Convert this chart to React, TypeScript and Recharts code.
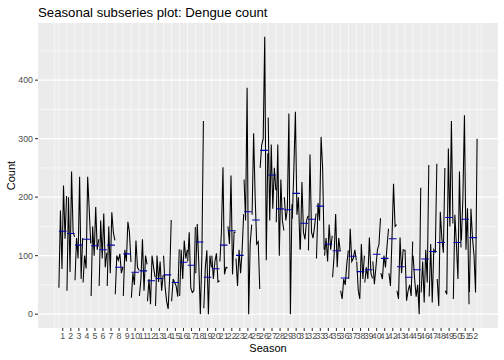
import { ComposedChart, Line, XAxis, YAxis, CartesianGrid } from "recharts";

// weekly dengue counts, one array per year, weeks 1..52
const year1 = [45, 40, 58, 54, 31, 48, 48, 34, 31, 28, 31, 22, 14, 100, 22, 31, 90, 70, 10, 100, 90, 150, 95, 230, 170, 250, 336, 157, 200, 163, 111, 109, 95, 100, 63, 40, 60, 90, 54, 90, 70, 70, 40, 110, 100, 37, 30, 60, 40, 26, 126, 38];
const year2 = [177, 200, 130, 100, 150, 160, 150, 100, 110, 70, 60, 60, 100, 47, 60, 110, 140, 154, 80, 60, 140, 120, 48, 160, 309, 289, 160, 290, 160, 250, 226, 273, 190, 130, 100, 26, 146, 40, 80, 51, 60, 48, 26, 23, 60, 90, 120, 14, 34, 170, 200, 180];
const year3 = [77, 72, 95, 78, 100, 95, 70, 92, 90, 50, 128, 17, 55, 22, 54, 60, 45, 85, 109, 90, 251, 237, 110, 387, 200, 300, 290, 100, 180, 346, 140, 140, 160, 90, 171, 60, 90, 26, 60, 80, 100, 130, 131, 40, 30, 20, 20, 175, 283, 120, 340, 130];
const year4 = [220, 244, 235, 235, 183, 172, 174, 103, 158, 126, 40, 100, 90, 9, 48, 126, 37, 0, 0, 104, 68, 68, 70, 0, 120, 474, 180, 230, 343, 170, 128, 130, 303, 153, 80, 50, 95, 120, 131, 110, 80, 223, 70, 50, 50, 110, 110, 130, 150, 60, 110, 100];
const year5 = [129, 140, 60, 180, 110, 80, 140, 70, 140, 80, 100, 80, 40, 64, 30, 95, 40, 100, 100, 55, 80, 140, 109, 120, 124, 92, 250, 160, 0, 200, 160, 150, 250, 110, 130, 85, 110, 60, 70, 119, 116, 150, 110, 31, 0, 54, 105, 105, 330, 244, 181, 37];
const year6 = [202, 132, 130, 121, 128, 105, 126, 81, 89, 75, 85, 63, 67, 161, 111, 110, 149, 330, 80, 57, 79, 140, 171, 153, 43, 275, 212, 143, 188, 110, 168, 172, 110, 134, 107, 109, 92, 100, 61, 164, 146, 153, 109, 124, 216, 255, 257, 250, 155, 114, 17, 300];

const years = [year1, year2, year3, year4, year5, year6];
const seasons = Array.from({ length: 52 }, (_, i) => i + 1);

// same layout as forecast::ggsubseriesplot
const seasonWidth = (years.length - 1) * 1.05;
const rows: any[] = [];
seasons.forEach((s, i) => {
  const vals = years.map((y) => y[i]);
  const avg = vals.reduce((a, b) => a + b, 0) / vals.length;
  vals.forEach((v, k) => rows.push({ t: s + 0.025 + k / seasonWidth, count: v, avg }));
  rows.push({ t: s + 0.99, count: null, avg: null });
});

const allT = rows.filter((r) => r.count !== null).map((r) => r.t);
const allY = rows.filter((r) => r.count !== null).map((r) => r.count);
const tMin = Math.min(...allT);
const tMax = Math.max(...allT);
const yMin = Math.min(...allY);
const yMax = Math.max(...allY);
const xDomain = [tMin - 0.05 * (tMax - tMin), tMax + 0.05 * (tMax - tMin)];
const yDomain = [yMin - 0.05 * (yMax - yMin), yMax + 0.05 * (yMax - yMin)];

const xBreaks = seasons.map((s) => s + 0.5);
const xMinor = [0.5, ...seasons, 53, 53.5];
const yBreaks = [0, 100, 200, 300, 400];
const yMinor = [50, 150, 250, 350, 450];

const FONT = '"Liberation Sans", Arial, Helvetica, sans-serif';
const tickStyle = { fontSize: 8.8, fill: "#4D4D4D", fontFamily: FONT };

export default function App() {
  return (
    <div style={{ position: "absolute", left: 0, top: 0, width: 504, height: 360, background: "#fff" }}>
      <ComposedChart width={504} height={360} data={rows} margin={{ top: 23, right: 6, bottom: 0, left: 0 }}>
        <CartesianGrid fill="#EBEBEB" stroke="#FFFFFF" strokeWidth={0.55} horizontal={false} verticalValues={xMinor} syncWithTicks />
        <CartesianGrid stroke="#FFFFFF" strokeWidth={0.55} vertical={false} horizontalValues={yMinor} syncWithTicks />
        <CartesianGrid stroke="#FFFFFF" strokeWidth={1.1} vertical={false} horizontalValues={yBreaks} syncWithTicks />
        <XAxis
          type="number"
          dataKey="t"
          domain={xDomain}
          allowDataOverflow
          ticks={xBreaks}
          interval={0}
          tickFormatter={(v: number) => String(Math.round(v - 0.5))}
          tick={tickStyle}
          tickSize={3}
          tickMargin={2}
          tickLine={{ stroke: "#333333", strokeWidth: 1.07 }}
          axisLine={false}
          height={32}
        />
        <YAxis
          type="number"
          domain={yDomain}
          allowDataOverflow
          ticks={yBreaks}
          interval={0}
          tick={tickStyle}
          tickSize={3}
          tickMargin={2}
          tickLine={{ stroke: "#333333", strokeWidth: 1.07 }}
          axisLine={false}
          width={38}
        />
        <Line type="linear" dataKey="count" stroke="#000000" strokeWidth={1.07} dot={false} activeDot={false} connectNulls={false} isAnimationActive={false} />
        <Line type="linear" dataKey="avg" stroke="#0000AA" strokeWidth={1.07} dot={false} activeDot={false} connectNulls={false} isAnimationActive={false} />
        <text x={38} y={16.5} fontSize={13.2} fontFamily={FONT} fill="#000">
          Seasonal subseries plot: Dengue count
        </text>
        <text x={268} y={352} fontSize={11} fontFamily={FONT} fill="#000" textAnchor="middle">
          Season
        </text>
        <text x={15} y={175.5} fontSize={11} fontFamily={FONT} fill="#000" textAnchor="middle" transform="rotate(-90 15 175.5)">
          Count
        </text>
      </ComposedChart>
    </div>
  );
}
